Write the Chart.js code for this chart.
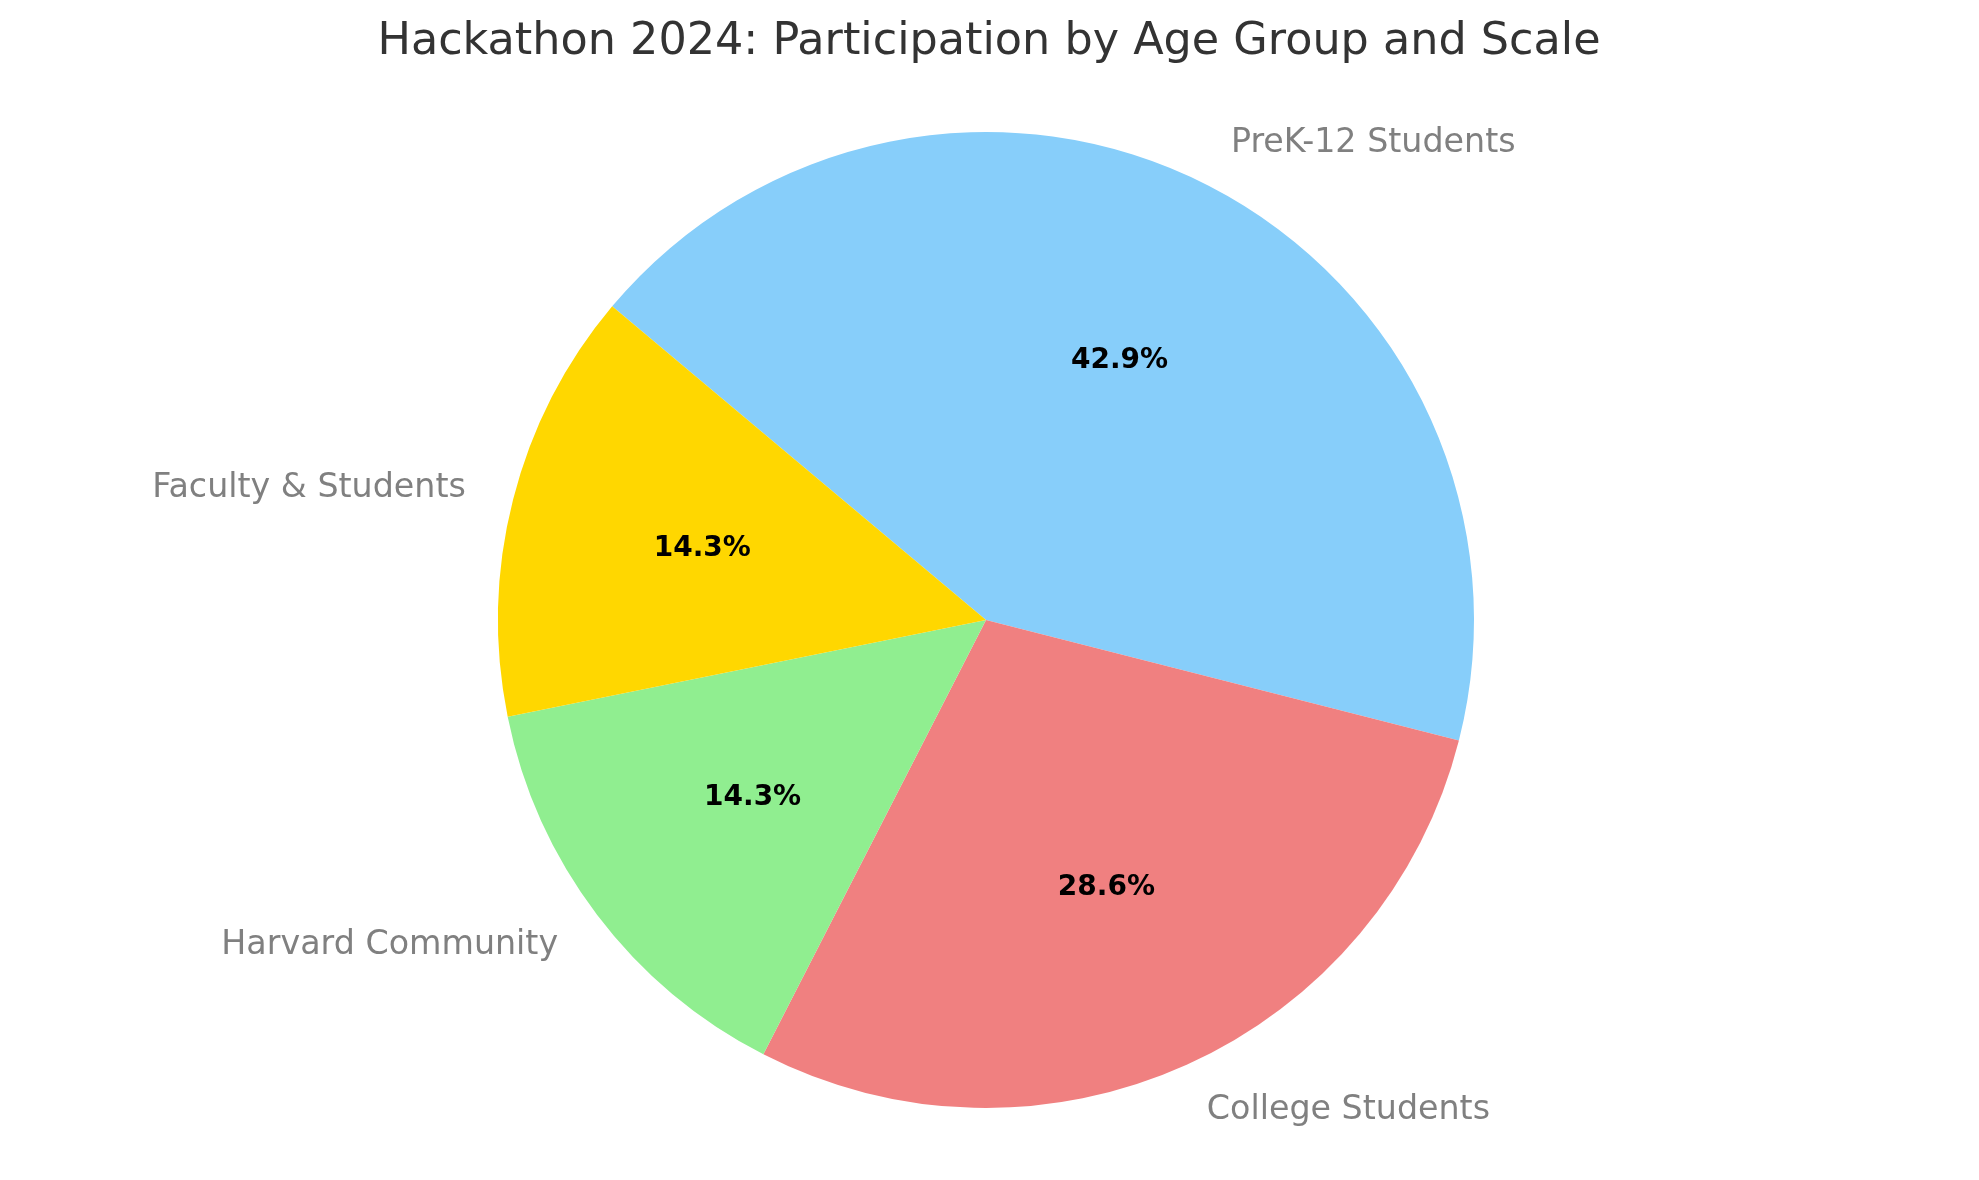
<!DOCTYPE html>
<html>
<head>
<meta charset="utf-8">
<title>Hackathon 2024</title>
<script src="https://cdn.jsdelivr.net/npm/chart.js@4.4.1/dist/chart.umd.min.js"></script>
<style>
  html, body { margin: 0; padding: 0; background: #ffffff; }
  #wrap { width: 1979px; height: 1180px; position: relative; }
</style>
</head>
<body>
<div id="wrap"><canvas id="hackathonPie"></canvas></div>
<script>
const titleText = "Hackathon 2024: Participation by Age Group and Scale";
const groups = ["PreK-12 Students", "College Students", "Harvard Community", "Faculty & Students"];
const participants = [3, 2, 1, 1];
const sliceColors = ["#87CEFA", "#F08080", "#90EE90", "#FFD700"];

const FONT = "'DejaVu Sans', 'Liberation Sans', sans-serif";

// labels outside the pie + percentages inside, like matplotlib autopct
const pieText = {
  id: "pieText",
  afterDatasetsDraw(chart) {
    const ctx = chart.ctx;
    const meta = chart.getDatasetMeta(0);
    const values = chart.data.datasets[0].data;
    const total = values.reduce((a, b) => a + b, 0);
    ctx.save();
    ctx.textBaseline = "middle";
    meta.data.forEach((arc, i) => {
      const mid = (arc.startAngle + arc.endAngle) / 2;
      const r = arc.outerRadius;
      const cos = Math.cos(mid);
      const sin = Math.sin(mid);

      ctx.font = "33.3px " + FONT;
      ctx.fillStyle = "#808080";
      ctx.textAlign = cos >= 0 ? "left" : "right";
      ctx.fillText(chart.data.labels[i], arc.x + cos * r * 1.1, arc.y + sin * r * 1.1 + 1);

      ctx.font = "bold 28px " + FONT;
      ctx.fillStyle = "#000000";
      ctx.textAlign = "center";
      const pct = (values[i] / total * 100).toFixed(1) + "%";
      ctx.fillText(pct, arc.x + cos * r * 0.6, arc.y + sin * r * 0.6 + 1);
    });

    ctx.font = "44.5px " + FONT;
    ctx.fillStyle = "#333333";
    ctx.textAlign = "center";
    ctx.fillText(titleText, 989, 42);
    ctx.restore();
  }
};

const ctx = document.getElementById("hackathonPie");

const hackathonPie = new Chart(ctx, {
  type: "pie",
  data: {
    labels: groups,
    datasets: [
      {
        data: participants,
        backgroundColor: sliceColors,
        borderWidth: 0,
        hoverOffset: 0
      }
    ]
  },
  options: {
    responsive: true,
    maintainAspectRatio: false,
    devicePixelRatio: 1,
    animation: false,
    rotation: -50,
    layout: {
      padding: {
        left: 498,
        right: 505,
        top: 132,
        bottom: 72
      }
    },
    plugins: {
      legend: { display: false },
      tooltip: { enabled: false },
      title: { display: false }
    }
  },
  plugins: [pieText]
});
</script>
</body>
</html>
